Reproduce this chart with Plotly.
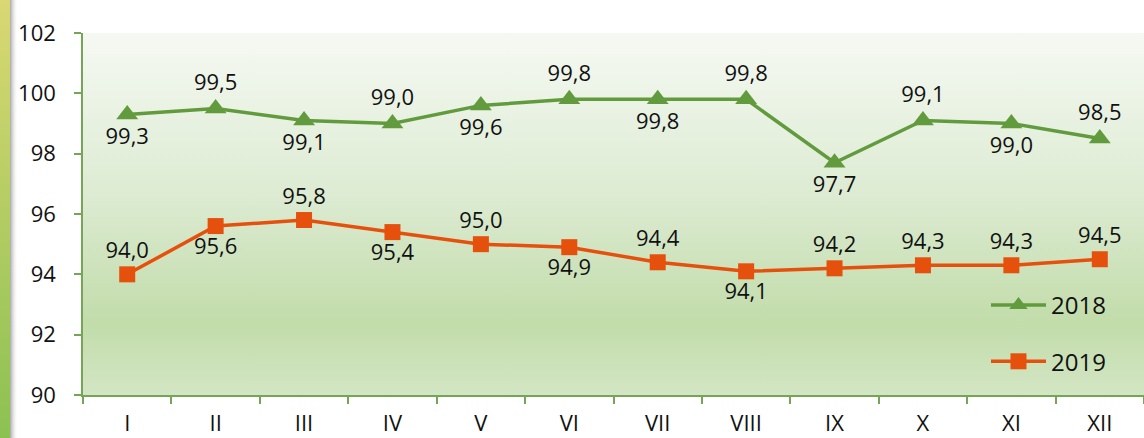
import base64
import plotly.graph_objects as go

months = ["I", "II", "III", "IV", "V", "VI", "VII", "VIII", "IX", "X", "XI", "XII"]
v2018 = [99.3, 99.5, 99.1, 99.0, 99.6, 99.8, 99.8, 99.8, 97.7, 99.1, 99.0, 98.5]
v2019 = [94.0, 95.6, 95.8, 95.4, 95.0, 94.9, 94.4, 94.1, 94.2, 94.3, 94.3, 94.5]
pos2018 = ["bottom center", "top center", "bottom center", "top center", "bottom center", "top center",
           "bottom center", "top center", "bottom center", "top center", "bottom center", "top center"]
pos2019 = ["top center", "bottom center", "top center", "bottom center", "top center", "bottom center",
           "top center", "bottom center", "top center", "top center", "top center", "top center"]
y_ticks = [90, 92, 94, 96, 98, 100, 102]

W, H = 1144, 438
L, R, T, B = 83, 0, 33, 43
pw, ph = W - L - R, H - T - B

GREEN = "#629b3d"
ORANGE = "#e5500c"
AXIS = "#77a557"
FONT = "Open Sans, Liberation Sans, sans-serif"


def fmt(v):
    return f"{v:.1f}".replace(".", ",")


def svg_uri(svg):
    return "data:image/svg+xml;base64," + base64.b64encode(svg.encode()).decode()


bg_svg = (
    '<svg xmlns="http://www.w3.org/2000/svg" width="100" height="100" preserveAspectRatio="none">'
    '<defs><linearGradient id="g" x1="0" y1="0" x2="0" y2="1">'
    '<stop offset="0" stop-color="#f6f9f3"/>'
    '<stop offset="0.45" stop-color="#dcebd2"/>'
    '<stop offset="0.8" stop-color="#c2dcaa"/>'
    '<stop offset="1" stop-color="#d3e6c4"/>'
    '</linearGradient></defs><rect width="100" height="100" fill="url(#g)"/></svg>'
)

side_svg = (
    '<svg xmlns="http://www.w3.org/2000/svg" width="18" height="438" preserveAspectRatio="none">'
    '<defs><linearGradient id="g" x1="0" y1="0" x2="0" y2="1">'
    '<stop offset="0" stop-color="#d9d873"/><stop offset="1" stop-color="#8cc152"/></linearGradient>'
    '<linearGradient id="s" x1="0" y1="0" x2="1" y2="0">'
    '<stop offset="0" stop-color="#a8a8a8"/><stop offset="1" stop-color="#ffffff" stop-opacity="0"/></linearGradient></defs>'
    '<rect x="0" y="0" width="10" height="438" fill="url(#g)"/>'
    '<rect x="10" y="0" width="8" height="438" fill="url(#s)"/></svg>'
)

fig = go.Figure()
fig.add_trace(go.Scatter(
    x=months, y=v2018, name="2018", legendgroup="a",
    mode="lines+markers+text",
    line=dict(color=GREEN, width=3.5),
    marker=dict(symbol="triangle-up", size=19, color=GREEN),
    text=[fmt(v) for v in v2018], textposition=pos2018,
    textfont=dict(family=FONT, size=22, color="#111111"),
    cliponaxis=False,
))
fig.add_trace(go.Scatter(
    x=months, y=v2019, name="2019", legendgroup="b",
    mode="lines+markers+text",
    line=dict(color=ORANGE, width=3.5),
    marker=dict(symbol="square", size=16, color=ORANGE),
    text=[fmt(v) for v in v2019], textposition=pos2019,
    textfont=dict(family=FONT, size=22, color="#111111"),
    cliponaxis=False,
))

fig.update_layout(
    width=W, height=H,
    margin=dict(l=L, r=R, t=T, b=B, autoexpand=False),
    paper_bgcolor="white",
    plot_bgcolor="rgba(0,0,0,0)",
    font=dict(family=FONT, size=22, color="#111111"),
    showlegend=True,
    legend=dict(
        x=(986 - L) / pw, y=(395 - 283) / ph, xanchor="left", yanchor="top",
        bgcolor="rgba(0,0,0,0)", font=dict(size=24, color="#111111"),
        itemwidth=55, tracegroupgap=22,
    ),
    images=[
        dict(source=svg_uri(bg_svg), xref="paper", yref="paper", x=0, y=1,
             sizex=1, sizey=1, sizing="stretch", layer="below", xanchor="left", yanchor="top"),
        dict(source=svg_uri(side_svg), xref="paper", yref="paper", x=-L / pw, y=(H - B) / ph,
             sizex=18 / pw, sizey=H / ph, sizing="stretch", layer="below", xanchor="left", yanchor="top"),
    ],
)
fig.update_xaxes(
    type="category", range=[-0.5, 11.5], automargin=False,
    showline=True, linecolor=AXIS, linewidth=1.5,
    ticks="outside", tickson="boundaries", ticklen=7, tickcolor=AXIS, tickwidth=1.5,
    showgrid=False, zeroline=False, ticklabelstandoff=8,
    tickfont=dict(size=22),
)
fig.update_yaxes(
    range=[90, 102], tickvals=y_ticks, automargin=False,
    showline=True, linecolor=AXIS, linewidth=1.5,
    ticks="outside", ticklen=7, tickcolor=AXIS, tickwidth=1.5,
    showgrid=False, zeroline=False, ticklabelstandoff=14,
    tickfont=dict(size=22),
)

fig.write_html(
    "out.html",
    config={"displayModeBar": False},
    post_script="document.body.style.margin='0';document.body.style.overflow='hidden';",
)
